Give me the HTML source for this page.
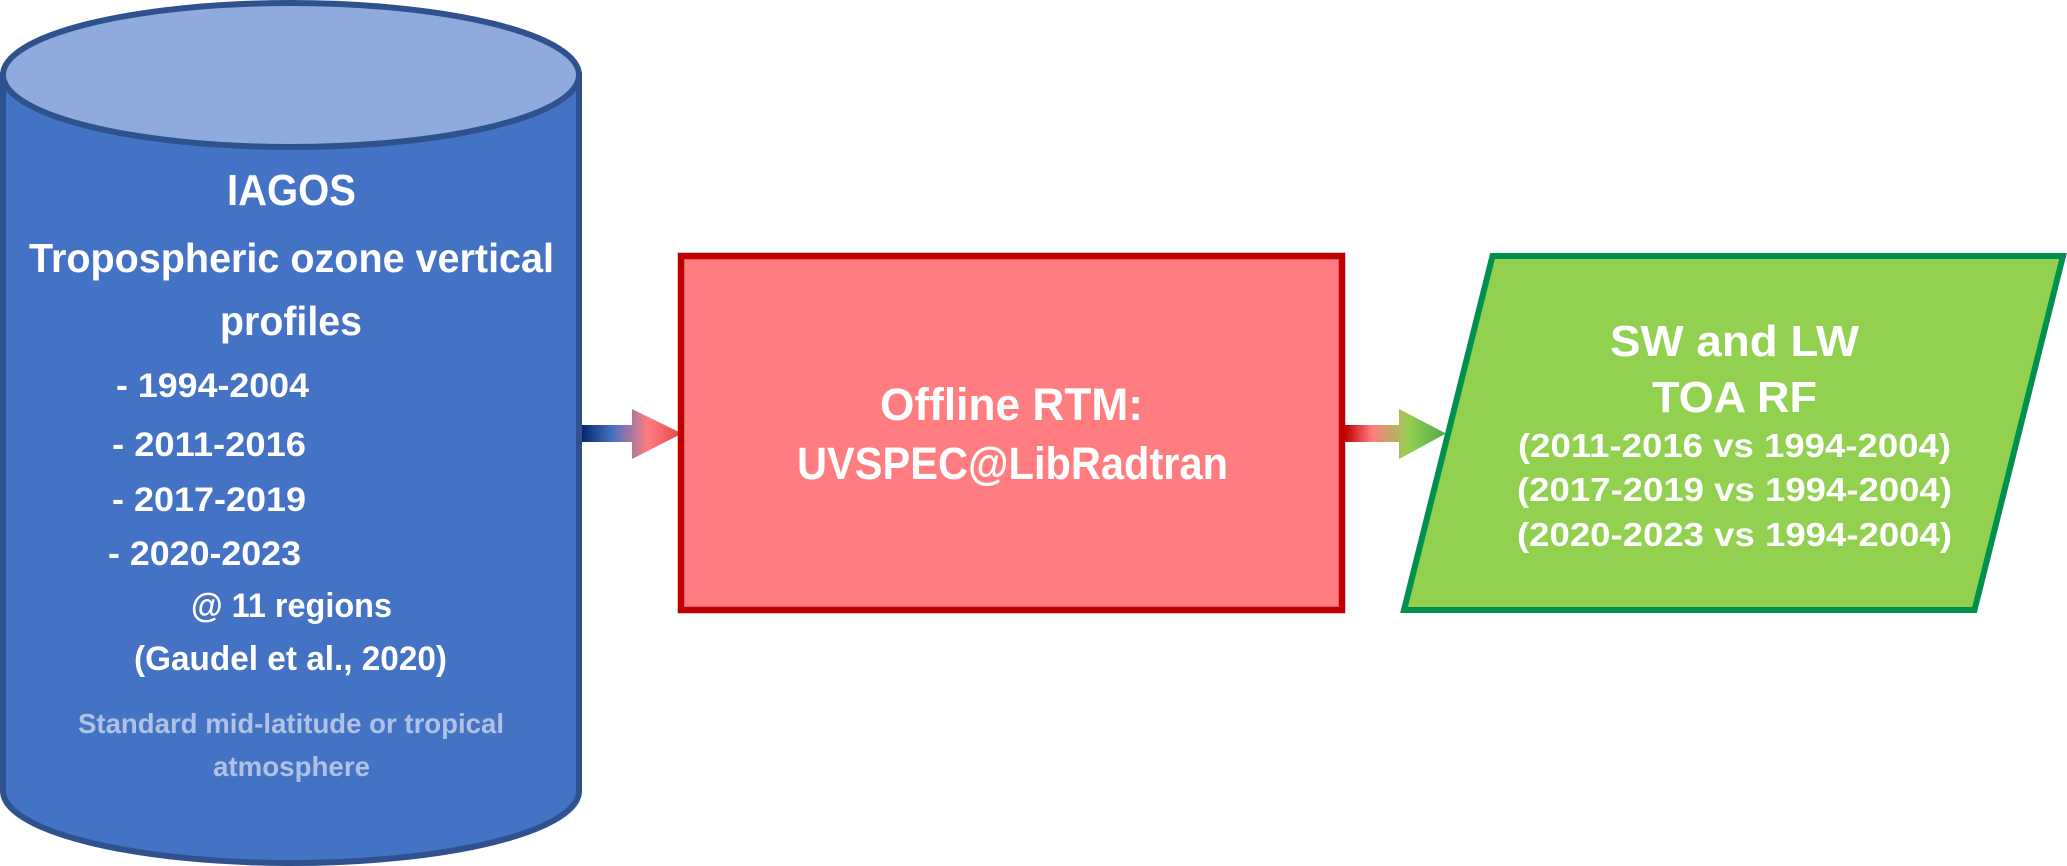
<!DOCTYPE html>
<html lang="en">
<head>
<meta charset="utf-8">
<title>IAGOS radiative forcing workflow</title>
<style>
html,body{margin:0;padding:0;background:#fff;width:2067px;height:866px;overflow:hidden}
svg{display:block}
text{font-family:"Liberation Sans",sans-serif;font-weight:700;fill:#fff}
</style>
</head>
<body>
<svg width="2067" height="866" viewBox="0 0 2067 866" xmlns="http://www.w3.org/2000/svg">
<defs>
<linearGradient id="a1" gradientUnits="userSpaceOnUse" x1="579" y1="0" x2="682" y2="0">
<stop offset="0" stop-color="#002060"/>
<stop offset=".32" stop-color="#4472C4"/>
<stop offset=".67" stop-color="#FF7C80"/>
<stop offset="1" stop-color="#E04848"/>
</linearGradient>
<linearGradient id="a2" gradientUnits="userSpaceOnUse" x1="1345" y1="0" x2="1446" y2="0">
<stop offset="0" stop-color="#C00000"/>
<stop offset=".27" stop-color="#FF7C80"/>
<stop offset=".64" stop-color="#92D050"/>
<stop offset="1" stop-color="#4FA84F"/>
</linearGradient>
</defs>

<!-- Arrows -->
<polygon points="579,425 632,425 632,409 682,433.5 632,459 632,442 579,442" fill="url(#a1)"/>
<polygon points="1345,425 1399,425 1399,409 1446,433.5 1399,459 1399,442 1345,442" fill="url(#a2)"/>

<!-- Cylinder -->
<path d="M3 75 V791 A288 72 0 0 0 579 791 V75 Z" fill="#4472C4" stroke="#2F528F" stroke-width="6"/>
<ellipse cx="291" cy="75" rx="288" ry="72" fill="#8FAADC" stroke="#2F528F" stroke-width="6"/>

<!-- Rectangle -->
<rect x="681" y="256" width="661" height="354" fill="#FF7C80" stroke="#C00000" stroke-width="6.5"/>

<!-- Parallelogram -->
<polygon points="1492.5,256 2063,256 1974.5,610 1404,610" fill="#92D050" stroke="#00914F" stroke-width="6"/>

<!-- Cylinder text -->
<text x="227" y="205" font-size="44" textLength="129" lengthAdjust="spacingAndGlyphs">IAGOS</text>
<text x="29" y="272" font-size="41" textLength="525" lengthAdjust="spacingAndGlyphs">Tropospheric ozone vertical</text>
<text x="220" y="335" font-size="41" textLength="142" lengthAdjust="spacingAndGlyphs">profiles</text>
<text x="116" y="397" font-size="34" textLength="193" lengthAdjust="spacingAndGlyphs">- 1994-2004</text>
<text x="112" y="456" font-size="34" textLength="194" lengthAdjust="spacingAndGlyphs">- 2011-2016</text>
<text x="112" y="511" font-size="34" textLength="194" lengthAdjust="spacingAndGlyphs">- 2017-2019</text>
<text x="108" y="565" font-size="34" textLength="193" lengthAdjust="spacingAndGlyphs">- 2020-2023</text>
<text x="191" y="617" font-size="34" textLength="201" lengthAdjust="spacingAndGlyphs">@ 11 regions</text>
<text x="134" y="670" font-size="34" textLength="313" lengthAdjust="spacingAndGlyphs">(Gaudel et al., 2020)</text>
<text x="78" y="733" font-size="28" textLength="426" lengthAdjust="spacingAndGlyphs" style="fill:#AFC2E6">Standard mid-latitude or tropical</text>
<text x="213" y="776" font-size="28" textLength="157" lengthAdjust="spacingAndGlyphs" style="fill:#AFC2E6">atmosphere</text>

<!-- Rectangle text -->
<text x="880" y="420" font-size="45" textLength="263" lengthAdjust="spacingAndGlyphs">Offline RTM:</text>
<text x="797" y="479" font-size="45" textLength="431" lengthAdjust="spacingAndGlyphs">UVSPEC@LibRadtran</text>

<!-- Parallelogram text -->
<text x="1610" y="356" font-size="44" textLength="249" lengthAdjust="spacingAndGlyphs">SW and LW</text>
<text x="1652" y="412" font-size="44" textLength="165" lengthAdjust="spacingAndGlyphs">TOA RF</text>
<text x="1518" y="457" font-size="33" textLength="433" lengthAdjust="spacingAndGlyphs">(2011-2016 vs 1994-2004)</text>
<text x="1517" y="501" font-size="33" textLength="435" lengthAdjust="spacingAndGlyphs">(2017-2019 vs 1994-2004)</text>
<text x="1517" y="546" font-size="33" textLength="435" lengthAdjust="spacingAndGlyphs">(2020-2023 vs 1994-2004)</text>
</svg>
</body>
</html>
